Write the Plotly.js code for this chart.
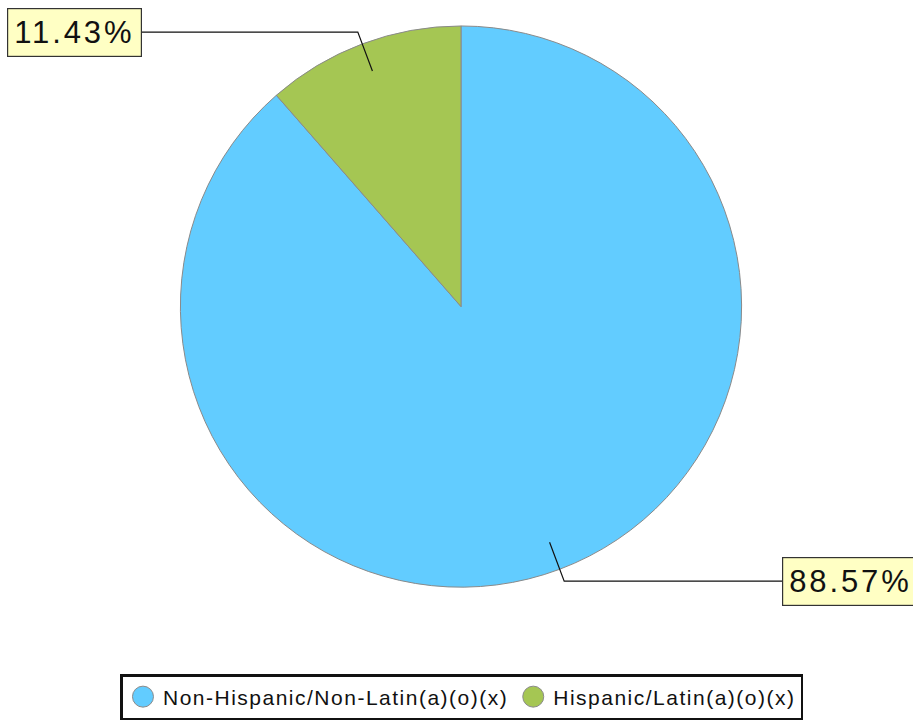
<!DOCTYPE html>
<html>
<head>
<meta charset="utf-8">
<script src="https://cdn.plot.ly/plotly-3.0.1.min.js"></script>
<style>
  html, body { margin: 0; padding: 0; background: #fff; }
  #chart { width: 913px; height: 720px; }
  .annotation-text { letter-spacing: 2.9px; }
  .legendtext { letter-spacing: 1.5px; }
  g.legendpoints path.scatterpts { d: path("M10.5,0A10.5,10.5 0 1,1 0,-10.5A10.5,10.5 0 0,1 10.5,0Z"); }
</style>
</head>
<body>
<div id="chart"></div>
<script>
// ---- data ----
const categories = ["Non-Hispanic/Non-Latin(a)(o)(x)", "Hispanic/Latin(a)(o)(x)"];
const values = [88.57, 11.43];
const colors = ["#62ccff", "#a5c653"];

// ---- geometry (style/layout) ----
const W = 913, H = 720;
const pieLeft = 180, pieRight = 742, pieTop = 26, pieBottom = 588;
const cx = (pieLeft + pieRight) / 2, cy = (pieTop + pieBottom) / 2;
const R = Math.min(pieRight - pieLeft, pieBottom - pieTop) / 2;
const kInner = 0.897, kOuter = 1.045;
const leftBoxEdge = 142, rightBoxEdge = 782;
const FONT = "Liberation Sans, Arial, Helvetica, sans-serif";

const px = x => x / W;
const py = y => 1 - y / H;

const total = values.reduce((a, b) => a + b, 0);
const shapes = [];
const annotations = [];
let cum = 0;
values.forEach((v, i) => {
  const mid = (cum + v / 2) / total * 2 * Math.PI;
  cum += v;
  const sx = Math.sin(mid), sy = Math.cos(mid);
  const x1 = cx + sx * kInner * R, y1 = cy - sy * kInner * R;
  const x2 = cx + sx * kOuter * R, y2 = cy - sy * kOuter * R;
  const left = sx < 0;
  const x3 = left ? leftBoxEdge : rightBoxEdge;
  shapes.push({
    type: "path", xref: "paper", yref: "paper",
    path: `M ${px(x1)} ${py(y1)} L ${px(x2)} ${py(y2)} L ${px(x3)} ${py(y2)}`,
    line: { color: "#111", width: 1.2 }
  });
  annotations.push({
    xref: "paper", yref: "paper",
    x: px(x3), y: py(y2),
    xanchor: left ? "right" : "left", yanchor: "middle",
    text: (v / total * 100).toFixed(2) + "%",
    showarrow: false,
    font: { family: FONT, size: 31, color: "#111" },
    bgcolor: "#ffffc4", bordercolor: "#333", borderwidth: 1.2, borderpad: 6
  });
});

const traces = [{
  type: "pie",
  labels: categories,
  values: values,
  sort: false,
  direction: "clockwise",
  rotation: 0,
  textinfo: "none",
  hoverinfo: "label+percent",
  showlegend: false,
  marker: { colors: colors, line: { color: "#8a8a8a", width: 1 } },
  domain: { x: [px(pieLeft), px(pieRight)], y: [py(pieBottom), py(pieTop)] }
}];
categories.forEach((c, i) => {
  traces.push({
    type: "scatter", mode: "markers", x: [null], y: [null],
    name: c, showlegend: true, hoverinfo: "skip",
    marker: { symbol: "circle", size: 16, color: colors[i], line: { color: "#8a8a8a", width: 1 } }
  });
});

const layout = {
  width: W, height: H,
  margin: { l: 0, r: 0, t: 0, b: 0 },
  paper_bgcolor: "#ffffff", plot_bgcolor: "rgba(0,0,0,0)",
  xaxis: { visible: false, fixedrange: true },
  yaxis: { visible: false, fixedrange: true },
  showlegend: true,
  legend: {
    orientation: "h", x: 0.506, xanchor: "center", y: py(675), yanchor: "top",
    bordercolor: "#111", borderwidth: 2.5, bgcolor: "#fff",
    font: { family: FONT, size: 21, color: "#111" },
    itemsizing: "trace"
  },
  shapes: shapes,
  annotations: annotations
};

Plotly.newPlot("chart", traces, layout, { displayModeBar: false, staticPlot: true });
</script>
</body>
</html>
